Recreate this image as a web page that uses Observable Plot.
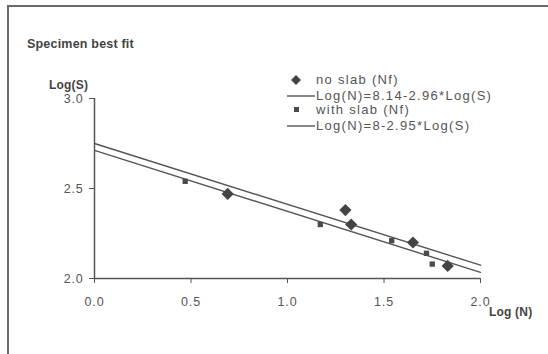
<!DOCTYPE html>
<html><head><meta charset="utf-8">
<script src="https://cdn.jsdelivr.net/npm/d3@7"></script>
<script src="https://cdn.jsdelivr.net/npm/@observablehq/plot@0.6"></script>
<style>
body{margin:0;background:#fff;font-family:"Liberation Sans",Arial,sans-serif;}
#wrap{position:relative;width:548px;height:354px;overflow:hidden;}
#border{position:absolute;left:7px;top:5px;width:560px;height:400px;border:2px solid #6a6a6a;box-sizing:border-box;}
.lbl{position:absolute;color:#444;white-space:nowrap;line-height:13px;}
.b{font-weight:bold;font-size:12.5px;letter-spacing:0.2px;}
.leg{font-size:13px;letter-spacing:1.3px;color:#555;height:13px;}
#chart{position:absolute;left:0;top:0;}
</style></head>
<body><div id="wrap"><div id="chart"></div><div id="border"></div>
<div class="lbl b" style="left:27px;top:38px;">Specimen best fit</div>
<div class="lbl b" style="left:49px;top:79px;font-size:12px;">Log(S)</div>
<div class="lbl b" style="left:489px;top:306px;font-size:12px;">Log (N)</div>
<div id="legend"></div>
</div>
<script>
// data
const noSlabN = [0.69, 1.30, 1.33, 1.65, 1.83];
const noSlabS = [2.47, 2.38, 2.30, 2.20, 2.07];
const slabN = [0.47, 1.17, 1.54, 1.72, 1.75];
const slabS = [2.54, 2.30, 2.21, 2.14, 2.08];
const fitN = [0, 2];
const fitNoSlabS = [2.75, 2.074];
const fitSlabS = [2.712, 2.034];
const xTicks = [0, 0.5, 1, 1.5, 2];
const yTicks = [2, 2.5, 3];
const legendLabels = ["no slab (Nf)", "Log(N)=8.14-2.96*Log(S)", "with slab (Nf)", "Log(N)=8-2.95*Log(S)"];

const noSlab = noSlabN.map((n, i) => ({n, s: noSlabS[i]}));
const slab = slabN.map((n, i) => ({n, s: slabS[i]}));
const fit1 = fitN.map((n, i) => ({n, s: fitNoSlabS[i]}));
const fit2 = fitN.map((n, i) => ({n, s: fitSlabS[i]}));

const ink = "#555";
const plot = Plot.plot({
  width: 548, height: 354,
  marginLeft: 94, marginRight: 68, marginTop: 98, marginBottom: 76,
  style: {fontFamily: "'Liberation Sans', Arial, sans-serif", fontSize: "12.5px", color: "#555", background: "transparent", letterSpacing: "0.8px"},
  x: {domain: [0, 2], ticks: xTicks, tickFormat: d3.format(".1f"), label: null, tickSize: 5, tickPadding: 14},
  y: {domain: [2, 3], ticks: yTicks, tickFormat: d3.format(".1f"), label: null, tickSize: 5, tickPadding: 6},
  marks: [
    Plot.ruleX([0], {y1: 2, y2: 3, stroke: ink, strokeWidth: 1.5}),
    Plot.ruleY([2], {x1: 0, x2: 2, stroke: ink, strokeWidth: 1.5}),
    Plot.line(fit1, {x: "n", y: "s", stroke: ink, strokeWidth: 1.4}),
    Plot.line(fit2, {x: "n", y: "s", stroke: ink, strokeWidth: 1.4}),
    Plot.dot(slab, {x: "n", y: "s", symbol: "square", r: 3, fill: "#4a4a4a", stroke: "none"}),
    Plot.dot(noSlab, {x: "n", y: "s", symbol: "diamond2", r: 5.5, fill: "#444", stroke: "none"})
  ]
});
plot.querySelectorAll('[aria-label="x-axis tick"] path, [aria-label="y-axis tick"] path').forEach(p => p.setAttribute("stroke", ink));
document.getElementById("chart").appendChild(plot);

// legend
const leg = document.getElementById("legend");
const tops = [79, 95, 109, 125];
legendLabels.forEach((t, i) => {
  const row = document.createElement("div");
  row.className = "lbl leg";
  row.style.left = "286px";
  row.style.top = (tops[i] - 7) + "px";
  let sym;
  if (i === 0) sym = '<svg width="30" height="12" style="vertical-align:middle"><path d="M10,1 L15,6 L10,11 L5,6Z" fill="#444"/></svg>';
  else if (i === 2) sym = '<svg width="30" height="12" style="vertical-align:middle"><rect x="8" y="3" width="5" height="5" fill="#4a4a4a"/></svg>';
  else sym = '<svg width="30" height="12" style="vertical-align:middle"><line x1="1" x2="29" y1="6" y2="6" stroke="#555" stroke-width="1.4"/></svg>';
  row.innerHTML = sym + '<span style="vertical-align:middle">' + t + '</span>';
  leg.appendChild(row);
});
</script>
</body></html>
